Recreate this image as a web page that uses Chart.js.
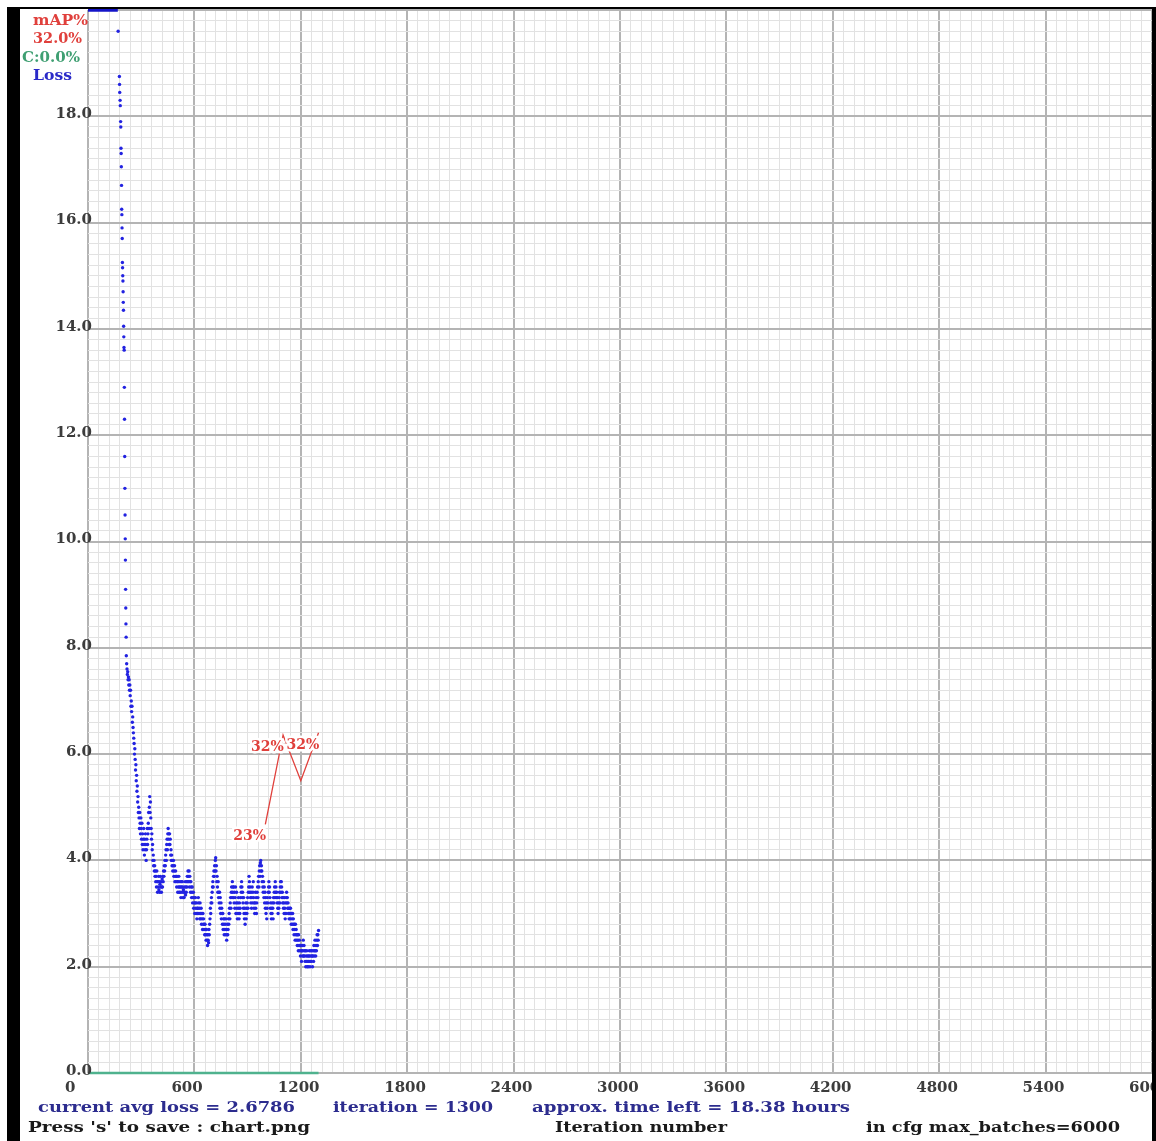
<!DOCTYPE html>
<html><head><meta charset="utf-8">
<script src="https://cdn.jsdelivr.net/npm/chart.js@4.4.1/dist/chart.umd.min.js"></script>
<style>
html,body{margin:0;padding:0;background:#fff;}
#wrap{position:relative;width:1156px;height:1141px;overflow:hidden;background:#fff;}
#c{position:absolute;left:0;top:0;}
.frame{position:absolute;background:#000;}
</style></head><body>
<div id="wrap">
<canvas id="c" width="1156" height="1141"></canvas>
<div class="frame" style="left:7px;top:7px;width:13px;height:1134px"></div>
<div class="frame" style="left:7px;top:7px;width:1149px;height:2px"></div>
<div class="frame" style="left:1152px;top:7px;width:4px;height:1134px"></div>
</div>
<script>
// ---------------- data ----------------
const MAX_BATCHES = 6000;
const X_TICK_STEP = 600;        // labelled iteration ticks
const Y_TICK_STEP = 2;          // labelled loss ticks
const LOSS_MAX = 20;

// avg loss above the top of the chart (drawn clipped at the top edge)
const clippedIters = [0, 168];
const clippedLoss = [20, 20];

// steep early drop, one point per iteration
const earlyIters = [170,177,178,179,181,182,184,185,186,187,
  188,189,190,191,192,193,194,195,196,197,
  198,199,200,201,202,203,204,205,206,207,
  208,209,210,211,212,213,214,215,216,218];
const earlyLoss = [19.6,18.75,18.6,18.45,18.3,18.2,17.9,17.8,17.4,17.3,
  17.05,16.7,16.25,16.15,15.9,15.7,15.25,15.15,15.0,14.9,
  14.7,14.5,14.35,14.05,13.85,13.65,13.6,12.9,12.3,11.6,
  11.0,10.5,10.05,9.65,9.1,8.75,8.45,8.2,7.85,7.7];

// avg loss sampled every 2 iterations from iteration 220 to 1300
const LOSS_START = 220, LOSS_STEP = 2;
const lossValues = [
  7.6,7.5,7.55,7.4,7.45,7.3,7.4,7.2,7.3,7.1,7.2,6.9,7.0,6.8,6.9,6.6,6.7,6.5,6.4,6.3,
  6.2,6.0,6.1,5.9,5.7,5.8,5.5,5.6,5.3,5.4,5.1,5.2,4.9,5.0,4.8,4.6,4.9,4.7,4.5,4.8,
  4.6,4.4,4.7,4.3,4.5,4.2,4.4,4.6,4.3,4.1,4.4,4.2,4.5,4.3,4.0,4.2,4.4,4.6,4.3,4.5,
  4.7,4.9,4.6,5.0,5.2,4.9,5.1,4.8,4.6,4.4,4.5,4.2,4.3,4.0,4.1,3.9,4.0,3.8,3.9,3.7,
  3.8,3.6,3.7,3.5,3.8,3.6,3.4,3.6,3.5,3.7,3.45,3.6,3.4,3.55,3.7,3.5,3.6,3.4,3.5,3.65,
  3.5,3.7,3.6,3.8,3.7,3.9,3.8,4.0,3.9,4.1,4.2,4.0,4.3,4.4,4.2,4.5,4.6,4.4,4.5,4.3,
  4.5,4.3,4.4,4.1,4.2,4.0,4.1,3.9,4.0,3.8,3.9,4.0,3.7,3.8,3.9,3.6,3.7,3.8,3.6,3.7,
  3.5,3.7,3.6,3.4,3.6,3.5,3.7,3.4,3.5,3.6,3.4,3.5,3.3,3.6,3.5,3.4,3.6,3.5,3.3,3.45,
  3.4,3.3,3.5,3.4,3.6,3.35,3.5,3.4,3.6,3.5,3.7,3.6,3.8,3.7,3.6,3.8,3.5,3.7,3.6,3.4,
  3.6,3.5,3.3,3.4,3.5,3.2,3.3,3.4,3.1,3.3,3.2,3.0,3.2,3.3,3.1,3.0,3.2,2.9,3.1,3.0,
  3.1,3.3,3.2,3.0,3.1,2.9,3.2,3.0,2.9,3.1,2.8,3.0,2.9,2.7,3.0,2.8,2.9,2.7,2.8,2.6,
  2.8,2.6,2.7,2.5,2.7,2.6,2.5,2.4,2.6,2.5,2.45,2.7,2.6,2.8,2.9,3.1,3.0,3.2,3.3,3.2,
  3.4,3.5,3.6,3.5,3.7,3.8,3.7,3.9,3.8,4.0,4.05,3.8,3.9,3.6,3.7,3.5,3.4,3.6,3.3,3.4,
  3.2,3.4,3.1,3.3,3.0,3.2,2.9,3.1,3.0,2.8,3.0,2.7,2.9,2.8,2.6,2.9,2.7,2.8,2.6,2.9,
  2.7,2.5,2.6,2.8,2.6,2.7,2.9,2.8,3.0,3.1,2.9,3.2,3.3,3.1,3.4,3.5,3.3,3.6,3.4,3.5,
  3.3,3.5,3.2,3.4,3.1,3.3,3.5,3.0,3.2,3.4,3.1,2.9,3.2,3.0,3.3,3.1,2.9,3.2,3.0,3.1,
  3.3,3.5,3.4,3.6,3.5,3.3,3.4,3.2,3.1,3.3,3.0,2.9,3.1,2.8,3.0,3.2,2.9,3.1,3.0,3.2,
  3.3,3.1,3.4,3.5,3.7,3.6,3.4,3.5,3.3,3.2,3.4,3.1,3.3,3.5,3.2,3.4,3.6,3.3,3.1,3.2,
  3.0,3.2,3.4,3.1,3.3,3.0,3.2,3.4,3.5,3.3,3.6,3.7,3.5,3.8,3.9,3.7,3.95,4.0,3.8,3.9,
  3.8,3.6,3.7,3.5,3.4,3.6,3.3,3.5,3.2,3.4,3.1,3.3,3.0,3.2,2.9,3.1,3.3,3.2,3.4,3.5,
  3.6,3.4,3.5,3.3,3.1,3.2,3.0,2.9,3.1,3.0,3.2,3.1,2.9,3.3,3.2,3.4,3.5,3.3,3.6,3.4,
  3.5,3.3,3.4,3.2,3.3,3.1,3.0,3.2,3.1,3.3,3.4,3.2,3.5,3.6,3.4,3.6,3.5,3.3,3.4,3.2,
  3.3,3.1,3.2,3.0,3.3,3.1,2.9,3.2,3.0,3.3,3.4,3.2,3.3,3.1,3.2,3.0,3.1,2.9,3.0,3.1,
  2.9,3.1,3.0,2.8,3.0,2.9,2.8,3.0,2.7,2.9,2.8,2.6,2.8,2.7,2.5,2.8,2.6,2.7,2.5,2.6,
  2.4,2.6,2.5,2.3,2.6,2.4,2.5,2.3,2.4,2.2,2.4,2.3,2.1,2.3,2.4,2.2,2.3,2.5,2.2,2.4,
  2.2,2.3,2.1,2.3,2.0,2.2,2.1,2.3,2.0,2.2,2.1,2.0,2.2,2.1,2.3,2.2,2.0,2.1,2.3,2.2,
  2.1,2.3,2.2,2.0,2.2,2.3,2.1,2.4,2.2,2.3,2.5,2.3,2.2,2.4,2.3,2.5,2.6,2.4,2.6,2.5,
  2.68
];

// mAP (%) evaluations
const mapIters = [1000, 1100, 1200, 1300];
const mapValues = [23.4, 31.8, 27.5, 32.0];
const mapLabelShown = [true, true, false, true];

// C (%) line
const cIters = [0, 1300];
const cValues = [0, 0];

// status texts
const currentAvgLoss = '2.6786';
const currentIteration = 1300;
const timeLeftHours = '18.38';

// ---------------- build ----------------
const lossPoints = [];
earlyIters.forEach((it, i) => lossPoints.push({x: it, y: earlyLoss[i]}));
lossValues.forEach((v, i) => lossPoints.push({x: LOSS_START + i * LOSS_STEP, y: v}));
const clippedPoints = clippedIters.map((it, i) => ({x: it, y: clippedLoss[i]}));
const mapPoints = mapIters.map((it, i) => ({x: it, y: mapValues[i]}));
const cPoints = cIters.map((it, i) => ({x: it, y: cValues[i]}));

const MAJOR = '#b4b4b4', MINOR = '#e2e2e2';
const SERIF = '"DejaVu Serif", "Liberation Serif", serif';
const RED = '#e0403c', GREEN = '#3f9f72', BLUE = '#2a2ac8', NAVY = '#2c2c8e';

function isMajor(v, step) { return Math.abs(v / step - Math.round(v / step)) < 1e-6; }

function drawFit(ctx, text, x, baseline, width, font, color) {
  ctx.save();
  ctx.font = font;
  ctx.textAlign = 'left';
  ctx.textBaseline = 'alphabetic';
  const w = ctx.measureText(text).width;
  ctx.translate(x, baseline);
  ctx.scale(width / w, 1);
  ctx.fillStyle = color;
  ctx.fillText(text, 0, 0);
  ctx.restore();
}

const textPlugin = {
  id: 'darknetTexts',
  afterDatasetsDraw(chart) {
    const ctx = chart.ctx;
    const xs = chart.scales.x, ys = chart.scales.y, ym = chart.scales.yMap;
    ctx.save();
    // y tick labels (major ticks of the loss scale)
    ctx.font = 'bold 15px ' + SERIF;
    ctx.fillStyle = '#3c3c3c';
    ctx.textAlign = 'right';
    ctx.textBaseline = 'middle';
    ys.ticks.forEach(t => {
      if (!isMajor(t.value, Y_TICK_STEP) || t.value > LOSS_MAX - 1e-6) return;
      ctx.fillText(t.value.toFixed(1), chart.chartArea.left + 4, ys.getPixelForValue(t.value) - 2);
    });
    // mAP labels
    ctx.font = 'bold 14px ' + SERIF;
    ctx.textAlign = 'left';
    ctx.textBaseline = 'alphabetic';
    mapIters.forEach((it, i) => {
      if (!mapLabelShown[i]) return;
      const t = Math.round(mapValues[i]) + '%';
      const px = xs.getPixelForValue(it) - 32;
      const py = ym.getPixelForValue(mapValues[i]) + 16;
      ctx.lineJoin = 'round';
      ctx.lineWidth = 5;
      ctx.strokeStyle = '#ffffff';
      ctx.strokeText(t, px, py);
      ctx.fillStyle = RED;
      ctx.fillText(t, px, py);
    });
    ctx.restore();
  },
  afterDraw(chart) {
    const ctx = chart.ctx;
    const f = 'bold 15px ' + SERIF;
    drawFit(ctx, 'mAP%', 33, 25, 55, f, RED);
    drawFit(ctx, mapValues[mapValues.length - 1].toFixed(1) + '%', 33, 43, 49, f, RED);
    drawFit(ctx, 'C:' + cValues[cValues.length - 1].toFixed(1) + '%', 22, 62, 58, f, GREEN);
    drawFit(ctx, 'Loss', 33, 80, 39, f, BLUE);
    drawFit(ctx, 'current avg loss = ' + currentAvgLoss, 38, 1112, 257, f, NAVY);
    drawFit(ctx, 'iteration = ' + currentIteration, 333, 1112, 160, f, NAVY);
    drawFit(ctx, 'approx. time left = ' + timeLeftHours + ' hours', 532, 1112, 318, f, NAVY);
    drawFit(ctx, "Press 's' to save : chart.png", 28, 1132, 282, f, '#1a1a1a');
    drawFit(ctx, 'Iteration number', 555, 1132, 172, f, '#1a1a1a');
    drawFit(ctx, 'in cfg max_batches=' + MAX_BATCHES, 866, 1132, 254, f, '#1a1a1a');
  }
};

function gridColor(step) { return c => (c.tick && isMajor(c.tick.value, step)) ? MAJOR : MINOR; }
function gridWidth(step) { return c => (c.tick && isMajor(c.tick.value, step)) ? 2 : 1; }

new Chart(document.getElementById('c'), {
  type: 'scatter',
  data: {
    datasets: [
      { label: 'mAP%', data: mapPoints, yAxisID: 'yMap', showLine: true,
        borderColor: RED, borderWidth: 1.3, pointRadius: 0, clip: false },
      { label: 'C', data: cPoints, yAxisID: 'yMap', showLine: true,
        borderColor: '#4fb28e', borderWidth: 2.5, pointRadius: 0, clip: false },
      { label: 'Loss', data: lossPoints, yAxisID: 'y', showLine: false,
        pointRadius: 1.7, pointBorderWidth: 0, backgroundColor: 'rgb(34,34,225)',
        borderColor: 'rgb(34,34,225)', clip: false },
      { label: 'Loss (clipped)', data: clippedPoints, yAxisID: 'y', showLine: true,
        borderColor: 'rgb(20,20,200)', borderWidth: 3.5, pointRadius: 0, clip: false }
    ]
  },
  options: {
    responsive: false,
    devicePixelRatio: 1,
    animation: false,
    layout: { padding: { left: 0, top: 10, right: 2, bottom: 0 } },
    plugins: { legend: { display: false }, tooltip: { enabled: false } },
    scales: {
      x: {
        type: 'linear', min: 0, max: MAX_BATCHES, position: 'bottom',
        afterFit(s) { s.paddingLeft = 0; s.paddingRight = 0; s.height = 68; },
        border: { display: false },
        grid: { color: gridColor(X_TICK_STEP), lineWidth: gridWidth(X_TICK_STEP), drawTicks: false },
        ticks: {
          stepSize: X_TICK_STEP / 10, autoSkip: false, maxRotation: 0, minRotation: 0,
          align: 'start', labelOffset: -23, padding: 6,
          color: '#3c3c3c', font: { family: SERIF, size: 15, weight: 'bold' },
          callback: v => isMajor(v, X_TICK_STEP) ? String(Math.round(v)) : ''
        }
      },
      y: {
        type: 'linear', min: 0, max: LOSS_MAX, position: 'left',
        afterFit(s) { s.width = 88; s.paddingTop = 0; s.paddingBottom = 0; },
        border: { display: false },
        grid: { color: gridColor(Y_TICK_STEP), lineWidth: gridWidth(Y_TICK_STEP), drawTicks: false },
        ticks: {
          stepSize: Y_TICK_STEP / 10, autoSkip: false,
          font: { family: SERIF, size: 15, weight: 'bold' },
          callback: () => ''   // labels drawn by the plugin so they can overlap the axis line
        }
      },
      yMap: { type: 'linear', min: 0, max: 100, display: false }
    }
  },
  plugins: [textPlugin]
});
</script>
</body></html>
